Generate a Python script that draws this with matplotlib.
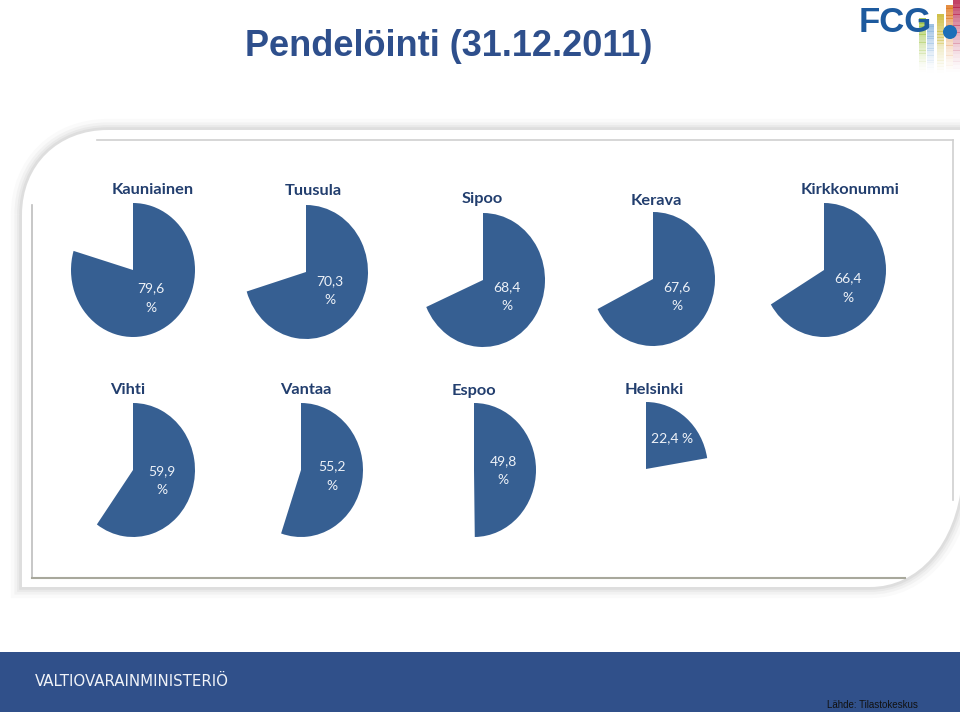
import matplotlib
matplotlib.use("Agg")
import matplotlib.pyplot as plt
from matplotlib.path import Path
import matplotlib.patches as patches

# data
kunnat = ["Kauniainen", "Tuusula", "Sipoo", "Kerava", "Kirkkonummi",
          "Vihti", "Vantaa", "Espoo", "Helsinki"]
osuus = [79.6, 70.3, 68.4, 67.6, 66.4, 59.9, 55.2, 49.8, 22.4]

# layout (pixels, y down)
centers = [(133, 270), (306, 272), (483, 280), (653, 279), (824, 270),
           (133, 470), (301, 470), (474, 470), (646, 469)]
title_pos = [(153, 190), (313, 191), (482, 199), (656, 201), (850, 190),
             (128, 390), (306, 390), (474, 391), (654, 390)]
label_pos = [(151, 298), (330, 291), (507, 297), (677, 297), (848, 288),
             (162, 481), (332, 476), (503, 471), (672, 438)]
rx, ry = 62, 67
W, H = 960, 712

pie_col = "#365f92"
title_col = "#223e6e"

fig = plt.figure(figsize=(9.6, 7.12), dpi=100)
fig.patch.set_facecolor("white")
bg = fig.add_axes([0, 0, 1, 1])
bg.set_xlim(0, W)
bg.set_ylim(H, 0)
bg.axis("off")

# slide title
bg.text(449, 46, "Pendelöinti (31.12.2011)", ha="center", va="center",
        fontsize=26, fontweight="bold", color="#2e4f8c",
        family=["Liberation Sans Narrow", "Liberation Sans", "DejaVu Sans"])

# FCG logo
bars = [(919, 18, "#9cc23b"), (927, 24, "#8fb8e0"), (937, 14, "#c8b52a"),
        (946, 5, "#e07a22"), (953, 0, "#b8204a")]
for bx, btop, bc in bars:
    n = 20
    for k in range(n):
        y0 = btop + k * (72 - btop) / n
        bg.add_patch(patches.Rectangle((bx, y0), 6.5, (72 - btop) / n + 0.5,
                                       facecolor=bc, edgecolor="none",
                                       alpha=0.85 * (1 - k / n) ** 1.5, zorder=2))
bg.text(895, 23, "FCG", ha="center", va="center", fontsize=25, fontweight="bold",
        color="#1d5a9e", family=["Liberation Sans", "DejaVu Sans"], zorder=3)
bg.add_patch(patches.Circle((950, 32), 7, facecolor="#1d6fb8", edgecolor="none", zorder=3))

# panel with rounded corners
verts = [(22, 215), (22, 587), (870, 587),
         (918, 587), (956, 545), (962, 480),
         (962, 130), (108, 130),
         (58, 130), (22, 165), (22, 215), (22, 215)]
codes = [Path.MOVETO, Path.LINETO, Path.LINETO,
         Path.CURVE4, Path.CURVE4, Path.CURVE4,
         Path.LINETO, Path.LINETO,
         Path.CURVE4, Path.CURVE4, Path.CURVE4, Path.CLOSEPOLY]
panel = Path(verts, codes)
for lw, a in [(16, 0.04), (11, 0.06), (7, 0.08), (4, 0.1)]:
    bg.add_patch(patches.PathPatch(panel, facecolor="none", edgecolor="#808080",
                                   lw=lw, alpha=a, zorder=1))
bg.add_patch(patches.PathPatch(panel, facecolor="white", edgecolor="none", zorder=2))

# inner frame
bg.plot([97, 953], [140, 140], color="#cfcfcf", lw=1.2, zorder=3)
bg.plot([32, 32], [205, 578], color="#bdbdbd", lw=1.2, zorder=3)
bg.plot([32, 905], [578, 578], color="#a8a89c", lw=1.5, zorder=3)
bg.plot([953, 953], [140, 500], color="#cfcfcf", lw=1.2, zorder=3)

# footer
bg.add_patch(patches.Rectangle((0, 652), W, H - 652, facecolor="#30508a",
                               edgecolor="none", zorder=2))
bg.text(35, 681, "VALTIOVARAINMINISTERIÖ", ha="left", va="center", fontsize=10.8,
        color="#f0f3f8", family=["DejaVu Sans"], zorder=3)
bg.text(827, 705, "Lähde: Tilastokeskus", ha="left", va="center", fontsize=7,
        color="#111111", family=["Liberation Sans Narrow", "Liberation Sans"], zorder=3)

# pies
for name, v, (cx, cy), (tx, ty), (lx, ly) in zip(kunnat, osuus, centers,
                                                 title_pos, label_pos):
    ax = fig.add_axes([(cx - rx) / W, 1 - (cy + ry) / H, 2 * rx / W, 2 * ry / H])
    ax.pie([v, 100 - v], colors=[pie_col, "none"], startangle=90,
           counterclock=False, radius=1)
    ax.set_aspect("auto")
    ax.set_xlim(-1, 1)
    ax.set_ylim(-1, 1)
    ax.axis("off")
    txt = f"{v:.1f}".replace(".", ",")
    lab = txt + " %" if v < 30 else txt + "\n%"
    ax.text(lx, ly, lab, transform=bg.transData, ha="center", va="center",
            fontsize=10, color="#eef2f8", linespacing=1.7,
            family=["Lato", "DejaVu Sans"])
    bg.text(tx, ty, name, ha="center", va="center", fontsize=11.8,
            fontweight="bold", color=title_col, family=["Lato", "DejaVu Sans"],
            zorder=4)

fig.savefig("out.png", dpi=100)
